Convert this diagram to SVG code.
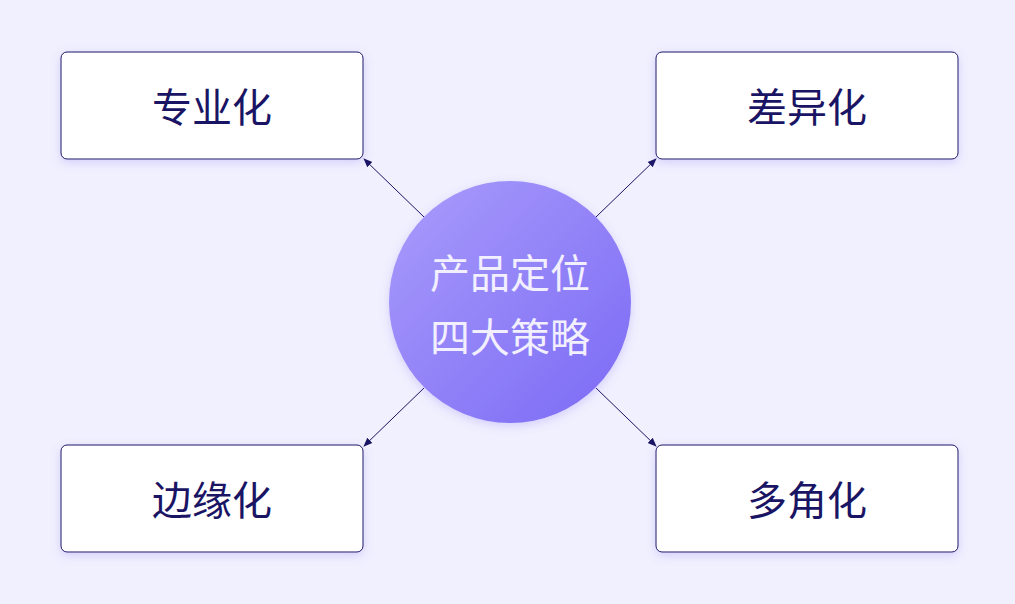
<svg xmlns="http://www.w3.org/2000/svg" width="1015" height="604" viewBox="0 0 1015 604">
<defs>
<linearGradient id="g" x1="0" y1="0" x2="1" y2="1"><stop offset="0" stop-color="#a99cfb"/><stop offset="1" stop-color="#7b6af5"/></linearGradient>
<filter id="s" x="-20%" y="-20%" width="140%" height="140%"><feDropShadow dx="0" dy="3" stdDeviation="5" flood-color="#7b6af5" flood-opacity="0.25"/></filter>
<marker id="a" viewBox="0 0 10 10" refX="9" refY="5" markerWidth="9" markerHeight="9" orient="auto"><path d="M0,1 L10,5 L0,9 z" fill="#1a1464"/></marker>
<style>
.box{fill:#fff;stroke:#1a1464;stroke-width:1;filter:url(#s)}
.t{font-family:"Noto Sans CJK SC",sans-serif;font-size:40px;fill:#1a1464;text-anchor:middle;dominant-baseline:central}
.c{font-family:"Noto Sans CJK SC",sans-serif;font-size:40px;fill:#f2efff;text-anchor:middle;dominant-baseline:central}
.ln{stroke:#1a1464;stroke-width:1;fill:none;marker-end:url(#a)}
</style>
</defs>
<rect width="1015" height="604" fill="#f0f0fe"/>
<g id="connectors">
<line class="ln" x1="424" y1="217" x2="364" y2="159"/>
<line class="ln" x1="596" y1="217" x2="656" y2="159"/>
<line class="ln" x1="424" y1="388" x2="364" y2="446"/>
<line class="ln" x1="596" y1="388" x2="656" y2="446"/>
</g>
<g id="center"><circle cx="510" cy="302" r="121" fill="url(#g)" filter="url(#s)"/>
<text class="c" x="510" y="271">产品定位</text><text class="c" x="510" y="335">四大策略</text></g>
<g id="n1"><rect class="box" x="61" y="52" width="302" height="107" rx="6"/><text class="t" x="212" y="105">专业化</text></g>
<g id="n2"><rect class="box" x="656" y="52" width="302" height="107" rx="6"/><text class="t" x="807" y="105">差异化</text></g>
<g id="n3"><rect class="box" x="61" y="445" width="302" height="107" rx="6"/><text class="t" x="212" y="498">边缘化</text></g>
<g id="n4"><rect class="box" x="656" y="445" width="302" height="107" rx="6"/><text class="t" x="807" y="498">多角化</text></g>
</svg>
